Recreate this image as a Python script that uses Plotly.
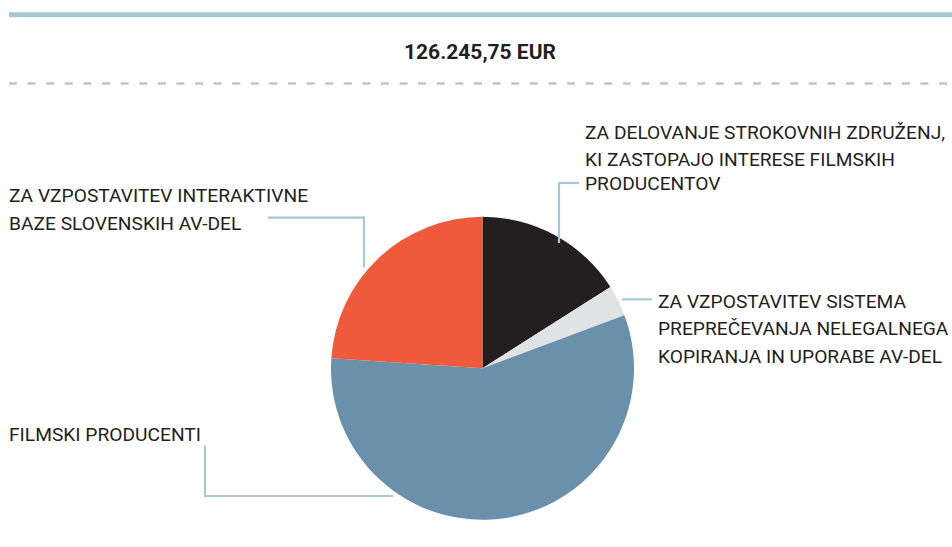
import plotly.graph_objects as go

W, H = 952, 547

# ---- data ----
categories = [
    "ZA DELOVANJE STROKOVNIH ZDRUŽENJ, KI ZASTOPAJO INTERESE FILMSKIH PRODUCENTOV",
    "ZA VZPOSTAVITEV SISTEMA PREPREČEVANJA NELEGALNEGA KOPIRANJA IN UPORABE AV-DEL",
    "FILMSKI PRODUCENTI",
    "ZA VZPOSTAVITEV INTERAKTIVNE BAZE SLOVENSKIH AV-DEL",
]
shares = [16.0, 3.3, 56.76, 23.94]
colors = ["#231f20", "#e0e2e3", "#6a90ab", "#ef5a3c"]
total_label = "126.245,75 EUR"

label_lines = [
    ["ZA DELOVANJE STROKOVNIH ZDRUŽENJ,", "KI ZASTOPAJO INTERESE FILMSKIH", "PRODUCENTOV"],
    ["ZA VZPOSTAVITEV SISTEMA", "PREPREČEVANJA NELEGALNEGA", "KOPIRANJA IN UPORABE AV-DEL"],
    ["FILMSKI PRODUCENTI"],
    ["ZA VZPOSTAVITEV INTERAKTIVNE", "BAZE SLOVENSKIH AV-DEL"],
]

# ---- layout helpers (pixel -> paper) ----
def px(x):
    return x / W

def py(y):
    return 1 - y / H

cx, cy, r = 482.5, 368.3, 151.5

fig = go.Figure(go.Pie(
    labels=categories,
    values=shares,
    marker=dict(colors=colors, line=dict(width=0)),
    sort=False,
    direction="clockwise",
    rotation=0,
    textinfo="none",
    hoverinfo="label+percent",
    showlegend=False,
    domain=dict(x=[px(cx - r), px(cx + r)], y=[py(cy + r), py(cy - r)]),
))

FONT = "Roboto"
TXT = "#231f20"
LINE = "#a6c8d6"

# label positions: left x and cap-centre y for each line
label_pos = [
    (586, [132.2, 159.7, 183.8]),
    (659, [301.3, 328.7, 356.0]),
    (10, [434.5]),
    (10, [195.8, 223.4]),
]

annotations = []
for lines, (lx, ys) in zip(label_lines, label_pos):
    for t, yy in zip(lines, ys):
        annotations.append(dict(
            text=t, x=px(lx - 3), y=py(yy), xref="paper", yref="paper",
            xanchor="left", yanchor="middle", showarrow=False,
            font=dict(family=FONT, size=19.2, color=TXT),
        ))

annotations.append(dict(
    text="<b>" + total_label + "</b>", x=px(480), y=py(52.2),
    xref="paper", yref="paper", xanchor="center", yanchor="middle",
    showarrow=False, font=dict(family=FONT, size=21, color="#231f20"),
))

def seg(x0, y0, x1, y1, color=LINE, width=2.2, dash=None):
    d = dict(type="line", xref="paper", yref="paper",
             x0=px(x0), y0=py(y0), x1=px(x1), y1=py(y1),
             line=dict(color=color, width=width))
    if dash:
        d["line"]["dash"] = dash
    return d

shapes = [
    seg(9, 14.7, 952, 14.7, color="#a8c8d4", width=5),
    seg(9, 83.5, 952, 83.5, color="#c4c4c4", width=2.5, dash="8px,10.6px"),
    # black slice leader
    seg(559, 243, 559, 183), seg(558, 183, 579, 183),
    # gray slice leader
    seg(622, 299.3, 652, 299.3),
    # blue slice leader
    seg(205, 445.5, 205, 496), seg(204, 496, 393, 496),
    # red slice leader
    seg(268, 217.7, 365, 217.7), seg(364, 216.7, 364, 267.7),
]

fig.update_layout(
    width=W, height=H,
    margin=dict(l=0, r=0, t=0, b=0),
    paper_bgcolor="white", plot_bgcolor="white",
    annotations=annotations, shapes=shapes,
)

fig.write_html(
    "out.html",
    config={"displayModeBar": False},
    post_script="document.body.style.margin='0';document.body.style.overflow='hidden';",
)
